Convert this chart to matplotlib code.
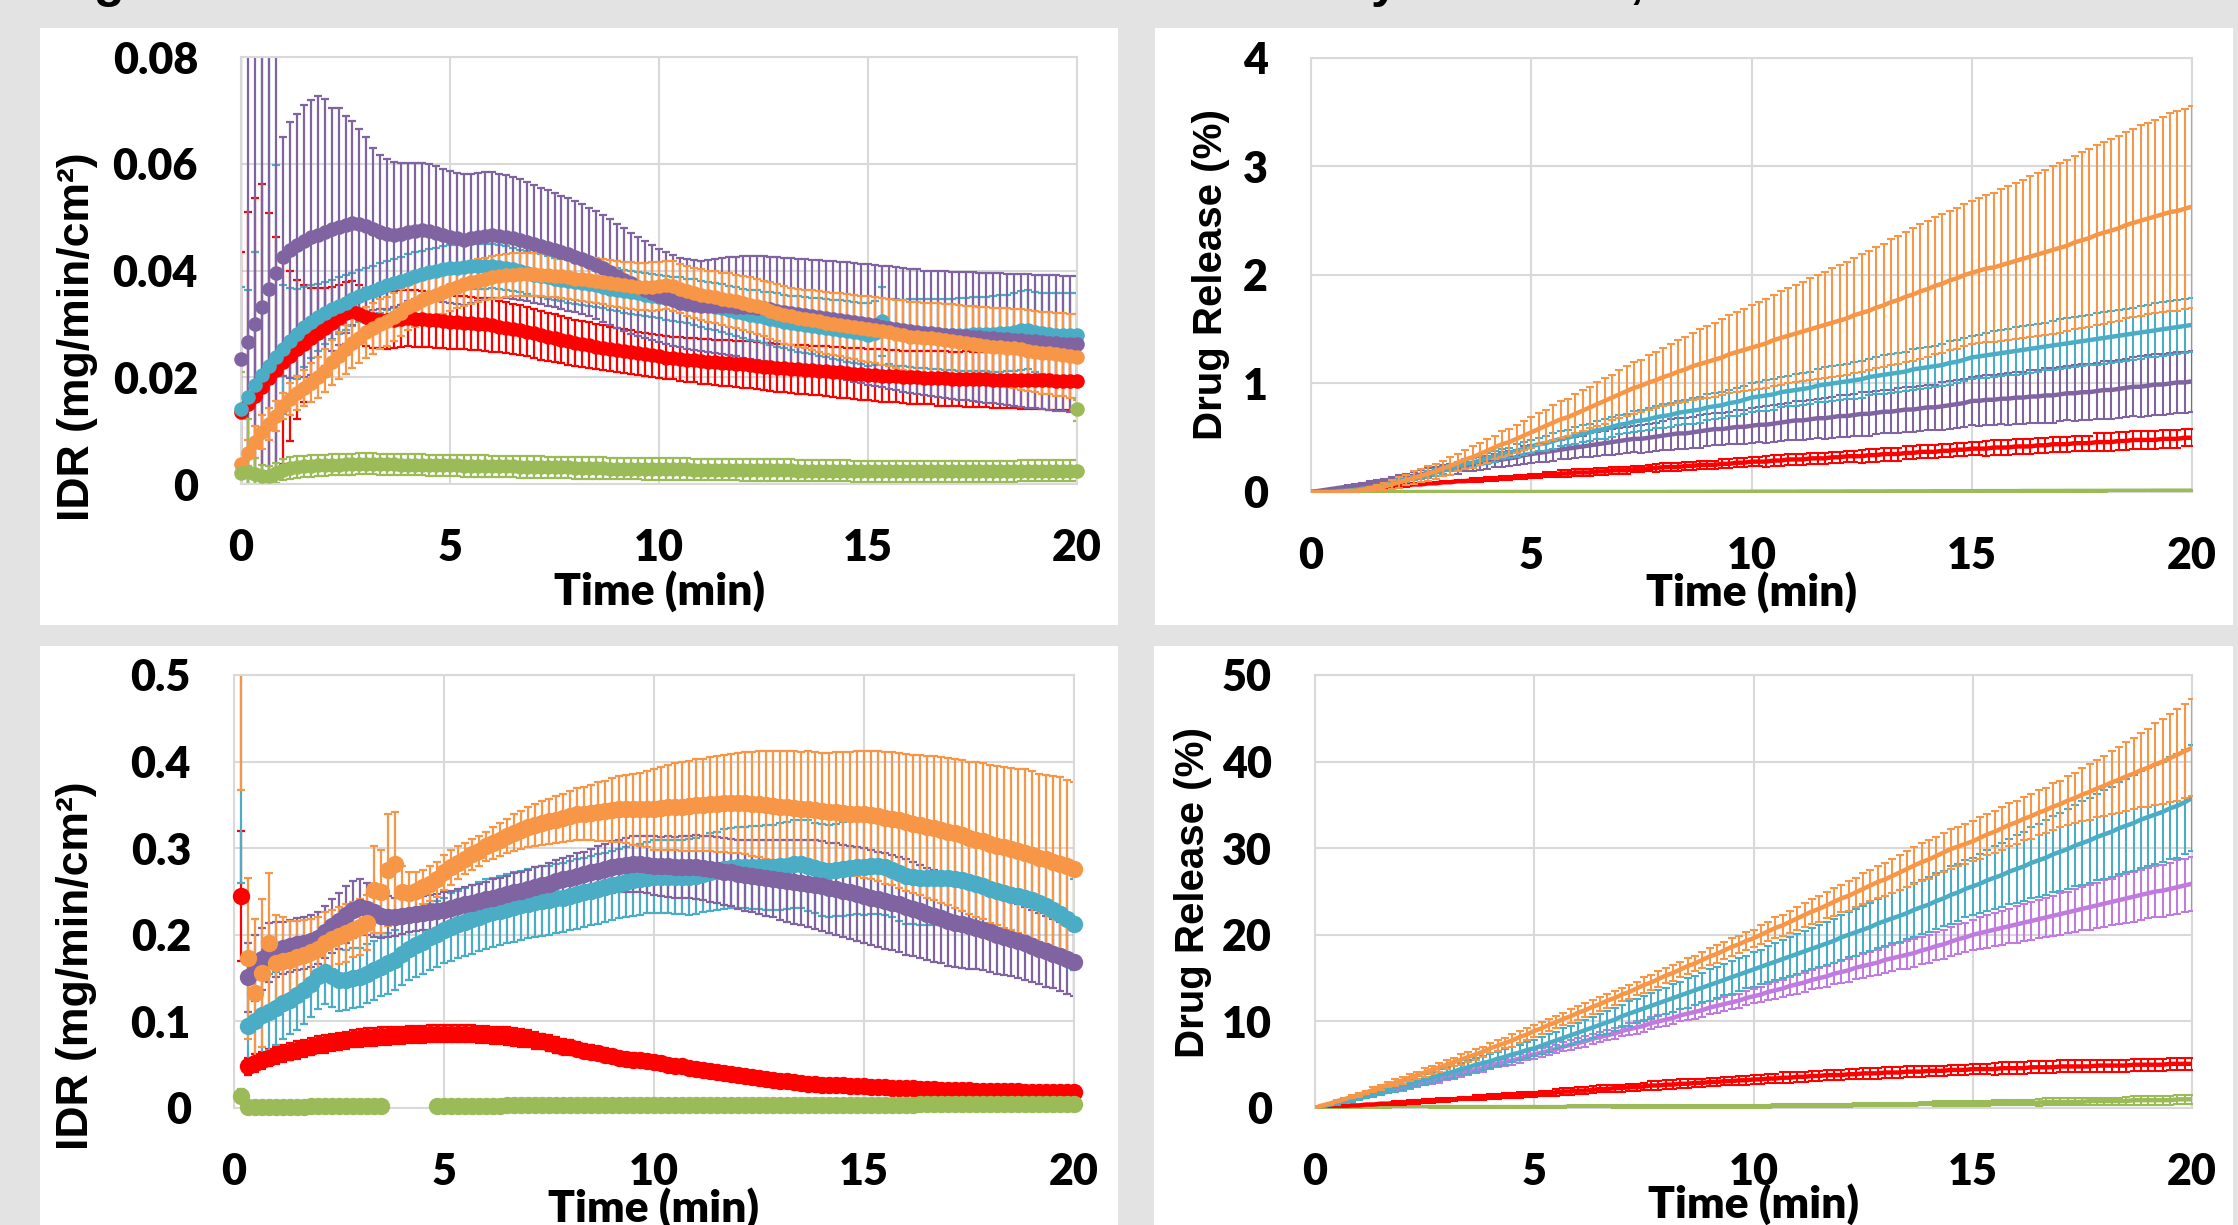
import numpy as np
import matplotlib
matplotlib.use("Agg")
import matplotlib.pyplot as plt
from matplotlib.patches import Rectangle
from matplotlib.transforms import Bbox, TransformedBbox

nan = float("nan")
W, H, DPI = 2238, 1225, 100

# ---------------- colours ----------------
C_RED, C_PURPLE, C_CYAN = "#FF0000", "#8064A2", "#4BACC6"
C_ORANGE, C_GREEN, C_LILAC = "#F79646", "#9BBB59", "#C07BE0"

# ---------------- axes text ----------------
x_ticks = [0, 5, 10, 15, 20]
x_tick_labels = ["0", "5", "10", "15", "20"]
tl_yticks = [0, 0.02, 0.04, 0.06, 0.08]
tl_ytick_labels = ["0", "0.02", "0.04", "0.06", "0.08"]
bl_yticks = [0, 0.1, 0.2, 0.3, 0.4, 0.5]
bl_ytick_labels = ["0", "0.1", "0.2", "0.3", "0.4", "0.5"]
tr_yticks = [0, 1, 2, 3, 4]
tr_ytick_labels = ["0", "1", "2", "3", "4"]
br_yticks = [0, 10, 20, 30, 40, 50]
br_ytick_labels = ["0", "10", "20", "30", "40", "50"]
xlabel_text = "Time (min)"
idr_label = "IDR (mg/min/cm²)"
dr_label = "Drug Release (%)"

# sampling every 10 s
time_full = np.arange(121) / 6.0      # 0 ... 20 min
time_bl = np.arange(1, 121) / 6.0     # 0.17 ... 20 min

# ================= TOP-LEFT: IDR, values in 1e-4 mg/min/cm2 =================
TL_UNIT = 1e-4
tl_red = [135,
 150,165,182,198,213,228, 240,252,263,273,283,293, 302,311,320,324,318,313,
 310,308,307,308,310,311, 310,309,308,307,305,304, 303,302,301,300,299,297,
 295,293,291,288,285,282, 279,276,273,270,267,264, 262,260,257,255,253,251,
 249,247,245,243,241,239, 237,236,234,233,232,230, 229,228,227,226,225,224,
 223,222,220,219,218,217, 216,215,214,213,212,211, 210,209,208,207,206,205,
 204,203,202,202,201,200, 200,199,199,198,198,197, 197,197,196,196,196,195,
 195,195,195,194,194,194, 194,194,193,193,193,193]
tl_red_sd = [300,
 360,370,380,310,250,190, 160,130,110,95,85,75, 68,62,58,56,55,55,
 55,54,54,54,53,53, 53,52,52,52,51,51, 50,50,50,49,49,49,
 48,48,47,47,46,46, 46,45,45,44,44,43, 43,43,42,42,42,41,
 41,41,40,40,40,40, 40,40,41,41,41,42, 42,42,43,43,43,44,
 44,44,44,45,45,45, 45,46,46,46,46,47, 47,47,47,48,48,48,
 48,49,49,49,49,50, 50,50,50,51,51,51, 51,52,52,52,52,53,
 53,53,53,54,54,54, 54,55,55,55,55,55]
tl_purple = [235,
 266,300,332,366,395,426, 438,448,456,462,467,472, 477,482,486,489,488,484,
 478,472,468,467,469,472, 474,475,474,470,466,463, 460,458,460,463,465,466,
 465,463,461,458,454,450, 446,442,438,434,430,426, 421,416,410,404,397,390,
 383,376,370,364,358,353, 348,344,340,337,335,333, 333,333,333,333,332,332,
 331,330,329,327,325,323, 321,319,317,315,313,311, 309,307,305,303,301,299,
 297,295,293,291,289,287, 285,283,282,281,280,279, 278,277,276,275,274,273,
 272,271,270,269,268,267, 266,265,264,263,262,262]
tl_purple_sd = [600,
 600,600,600,600,600,224, 240,246,255,258,259,250, 227,222,203,191,177,166,
 152,145,140,136,133,130, 128,126,125,125,125,124, 123,122,121,120,119,118,
 116,115,114,113,111,110, 109,108,107,106,105,104, 103,102,101,100,99,98,
 97,95,93,91,89,87, 86,85,84,84,84,84, 86,88,90,92,93,95,
 96,97,98,99,100,101, 102,103,104,105,106,107, 108,109,110,111,112,113,
 114,114,115,115,116,116, 117,117,118,118,119,119, 120,120,121,121,122,122,
 123,123,124,124,125,125, 126,126,127,127,128,128]
tl_cyan = [140,
 163,185,205,222,238,252, 267,281,295,304,312,320, 327,334,340,346,352,357,
 362,367,372,376,381,385, 389,393,397,399,402,404, 405,407,408,408,408,408,
 406,404,402,399,396,392, 390,387,384,382,380,378, 376,374,372,369,366,364,
 361,359,357,355,353,351, 349,347,345,343,341,338, 335,332,329,326,323,320,
 317,315,312,310,307,304, 302,300,298,296,294,292, 290,288,286,284,282,280,
 283,305,286,284,283,283, 282,282,281,281,280,280, 280,280,281,281,281,281,
 282,283,285,288,289,285, 282,281,280,280,279,279]
tl_cyan_sd = [230,
 200,250,650,600,360,120, 100,85,75,68,62,58, 55,53,51,50,49,48,
 47,47,46,46,45,45, 45,44,44,44,43,43, 43,42,42,42,42,41,
 41,41,41,40,40,40, 40,40,40,40,40,40, 40,40,40,40,40,40,
 40,40,40,40,40,40, 41,41,42,42,43,43, 44,44,45,45,46,46,
 47,48,48,49,50,50, 51,52,52,53,54,54, 55,56,57,57,58,59,
 60,65,61,62,62,63, 64,64,65,66,66,67, 68,68,69,70,70,71,
 72,72,73,74,74,75, 76,76,77,78,78,79]
tl_orange = [38,
 58,79,98,113,127,146, 160,170,180,190,200,212, 228,240,252,264,274,284,
 292,299,305,313,321,332, 338,344,350,355,360,365, 370,374,378,381,384,387,
 389,391,392,393,393,393, 392,391,390,389,387,385, 384,383,381,379,376,374,
 372,371,370,370,370,371, 372,371,366,362,358,355, 352,350,347,345,342,339,
 336,333,329,325,321,317, 314,311,309,307,305,302, 300,298,296,294,292,290,
 288,286,284,281,279,276, 275,274,273,271,269,268, 266,264,262,261,259,257,
 256,255,254,252,250,248, 246,245,243,242,240,238]
tl_orange_sd = [20,
 25,30,32,30,28,25, 30,32,34,36,38,40, 42,44,46,47,48,48,
 48,47,46,45,44,44, 43,42,42,41,41,40, 40,40,40,40,40,40,
 40,40,40,40,40,40, 40,40,40,41,41,41, 41,42,42,42,43,43,
 43,44,44,44,45,45, 45,46,46,47,47,48, 48,49,49,50,50,51,
 51,52,52,53,53,54, 54,55,55,56,57,58, 58,59,60,60,61,62,
 62,63,63,64,65,65, 66,66,67,68,68,69, 69,70,71,71,72,73,
 73,74,74,75,76,76, 77,77,78,78,79,80]
tl_green = [20,
 22,18,15,15,20,27, 30,32,33,34,35,35, 36,36,37,37,38,38,
 38,37,37,37,36,36, 36,36,35,35,35,35, 35,34,34,34,34,33,
 33,33,33,32,32,32, 32,31,31,31,31,30, 30,30,30,30,29,29,
 29,29,29,28,28,28, 28,28,28,28,27,27, 27,27,27,27,27,26,
 26,26,26,26,26,26, 26,25,25,25,25,25, 25,25,25,24,24,24,
 24,24,24,24,24,24, 24,24,24,24,24,24, 24,24,24,24,24,24,
 24,24,24,25,25,25, 25,25,25,25,25,25]
tl_green_sd = [190,
 100,30,20,19,19,19, 20,20,20,20,20,20, 20,20,20,20,20,20,
 20,20,20,20,20,20, 20,20,20,20,20,20, 20,20,20,20,20,20,
 20,20,20,20,20,20, 20,20,20,20,20,20, 20,20,20,20,20,20,
 20,20,20,20,20,20, 20,20,20,20,20,20, 20,20,20,20,20,20,
 20,20,20,20,20,20, 20,20,20,20,20,20, 20,20,20,20,20,20,
 20,20,20,20,20,20, 20,20,20,20,20,20, 20,20,20,20,20,20,
 20,20,20,20,20,20, 20,20,20,20,20,20]
tl_green_extra_t = [20.0]
tl_green_extra = [140]
tl_green_extra_sd = [22]

# ================= TOP-RIGHT: drug release, values in 0.01 % =================
TR_UNIT = 0.01
tr_orange = [0,
 0,0,0,0,1,1, 2,3,4,5,7,9, 11,13,15,17,19,22,
 24,27,30,32,35,38, 41,44,46,49,52,55, 58,61,64,67,69,72,
 75,78,81,84,87,90, 93,96,98,101,103,106, 108,111,113,116,118,120,
 122,124,127,129,131,133, 135,137,140,142,144,146, 148,150,152,154,156,158,
 160,163,165,167,170,172, 175,177,180,182,185,187, 190,192,195,197,200,202,
 204,206,207,209,211,213, 215,217,219,221,223,225, 227,230,232,234,237,239,
 241,243,246,248,250,252, 254,256,258,259,261,263]
tr_orange_sd = [0,
 0,0,0,0,1,1, 1,2,2,3,4,5, 5,6,6,7,7,7,
 8,8,9,10,10,11, 11,12,12,13,13,14, 15,15,16,17,17,18,
 19,19,20,21,21,22, 23,24,24,25,26,27, 28,29,30,31,32,33,
 34,35,36,37,38,39, 40,41,42,43,44,45, 46,47,48,49,50,51,
 52,53,54,55,56,57, 58,59,60,61,62,63, 63,64,64,65,65,66,
 67,68,69,70,71,72, 73,74,75,76,77,78, 79,80,81,82,83,84,
 84,85,86,87,88,88, 89,90,91,92,92,93]
tr_cyan = [0,
 0,0,0,1,1,2, 3,4,5,7,8,10, 11,13,14,16,18,20,
 22,24,26,27,29,31, 33,35,36,38,40,42, 44,45,47,49,50,52,
 54,55,57,58,60,62, 63,65,66,67,69,70, 71,73,74,75,76,78,
 79,80,82,83,85,87, 88,89,90,92,93,94, 95,96,98,99,100,101,
 102,103,104,106,107,108, 109,110,111,113,114,115, 116,117,119,120,122,124,
 125,126,127,128,129,130, 131,132,133,134,135,136, 137,138,139,140,141,142,
 143,144,145,146,147,148, 149,150,151,152,153,154]
tr_cyan_sd = [0,
 0,0,0,0,0,0, 0,1,1,1,1,2, 2,2,2,3,3,3,
 3,4,4,4,4,5, 5,5,5,6,6,6, 6,7,7,7,7,8,
 8,8,8,9,9,9, 9,10,10,10,10,11, 11,11,11,12,12,12,
 12,12,12,13,13,13, 13,14,14,14,14,15, 15,15,15,16,16,16,
 16,17,17,17,17,18, 18,18,18,19,19,19, 19,19,20,20,20,20,
 20,21,21,21,21,22, 22,22,22,22,23,23, 23,23,23,23,24,24,
 24,24,24,24,24,24, 25,25,25,25,25,25]
tr_purple = [0,
 1,2,3,4,5,6, 7,8,9,10,12,13, 14,15,16,18,19,20,
 21,22,24,25,26,27, 29,30,31,32,34,35, 36,37,38,39,40,41,
 42,43,44,45,46,47, 48,49,49,50,51,52, 53,54,54,55,56,57,
 58,58,59,60,60,61, 62,62,63,64,65,66, 66,67,68,68,69,70,
 70,71,72,72,73,74, 74,75,76,76,77,78, 78,79,80,81,82,84,
 84,85,85,86,86,87, 87,88,88,89,89,90, 91,91,92,92,93,94,
 94,95,96,97,97,98, 99,99,100,101,101,102]
tr_purple_sd = [0,
 0,0,1,1,1,1, 1,2,2,2,2,3, 3,3,4,4,4,5,
 5,5,5,6,6,6, 6,7,7,7,8,8, 8,9,9,9,10,10,
 10,11,11,11,12,12, 12,12,13,13,13,13, 14,14,14,14,15,15,
 15,15,15,16,16,16, 16,17,17,17,17,18, 18,18,18,19,19,19,
 19,19,20,20,20,20, 20,21,21,21,21,21, 21,22,22,22,22,22,
 23,23,23,23,24,24, 24,24,24,25,25,25, 25,26,26,26,26,27,
 27,27,27,27,28,28, 28,28,28,28,28,28]
tr_red = [0,
 0,1,1,2,2,3, 3,4,4,5,5,6, 6,7,7,8,8,9,
 9,10,10,11,11,12, 12,13,13,14,14,15, 15,16,16,17,17,18,
 18,18,19,19,20,20, 20,21,21,22,22,23, 23,23,24,24,25,25,
 25,26,26,27,27,28, 28,28,29,29,30,30, 30,31,31,31,32,32,
 33,33,33,34,34,35, 35,35,36,36,37,37, 37,38,38,39,39,40,
 40,40,41,41,41,42, 42,42,43,43,44,44, 44,45,45,45,46,46,
 46,47,47,48,48,48, 48,49,49,49,50,50]
tr_red_sd = [0,
 0,0,0,0,0,0, 0,0,1,1,1,1, 1,1,1,1,1,1,
 1,1,1,2,2,2, 2,2,2,2,2,2, 2,2,2,3,3,3,
 3,3,3,3,3,3, 3,3,3,3,4,4, 4,4,4,4,4,4,
 4,4,4,4,4,4, 4,5,5,5,5,5, 5,5,5,5,5,5,
 5,5,6,6,6,6, 6,6,6,6,6,6, 6,6,6,6,6,6,
 6,7,7,7,7,7, 7,7,7,7,7,7, 7,7,7,7,8,8,
 8,8,8,8,8,8, 8,8,8,8,8,8]
tr_green = [0,
 0,0,0,0,0,0, 0,0,0,0,0,0, 0,0,0,0,0,0,
 0,0,0,0,0,0, 0,0,0,0,0,0, 0,0,0,0,0,0,
 0,0,0,0,0,0, 0,0,0,0,0,0, 0.1,0.1,0.1,0.1,0.1,0.1,
 0.2,0.2,0.2,0.2,0.2,0.2, 0.3,0.3,0.3,0.3,0.3,0.3, 0.4,0.4,0.4,0.4,0.4,0.4,
 0.5,0.5,0.5,0.5,0.5,0.5, 0.6,0.6,0.6,0.6,0.6,0.6, 0.7,0.7,0.7,0.7,0.7,0.7,
 0.8,0.8,0.8,0.8,0.8,0.8, 0.9,0.9,0.9,0.9,0.9,0.9, 1.0,1.0,1.0,1.0,1.0,1.0,
 1.1,1.1,1.1,1.1,1.1,1.1, 1.2,1.2,1.2,1.2,1.2,1.2]
tr_green_sd = [0,
 0,0,0,0,0,0, 0,0,0,0,0,0, 0,0,0,0,0,0,
 0,0,0,0,0,0, 0,0,0,0,0,0, 0,0,0,0,0,0,
 0,0,0,0,0,0, 0,0,0,0,0,0, 0,0,0,0,0,0,
 0,0,0,0,0,0, 0.3,0.3,0.3,0.3,0.3,0.3, 0.3,0.3,0.3,0.3,0.3,0.3,
 0.4,0.4,0.4,0.4,0.4,0.4, 0.4,0.4,0.4,0.4,0.4,0.4, 0.5,0.5,0.5,0.5,0.5,0.5,
 0.5,0.5,0.5,0.5,0.5,0.5, 0.5,0.5,0.5,0.5,0.5,0.5, 0.6,0.6,0.6,0.6,0.6,0.6,
 0.6,0.6,0.6,0.6,0.6,0.6, 0.7,0.7,0.7,0.7,0.7,0.7]

# ================= BOTTOM-LEFT: IDR, values in 1e-3 mg/min/cm2 (t = 0.17 ... 20) =================
BL_UNIT = 1e-3
bl_red = [
 245,48,52,55,58,61, 63,65,67,69,71,73, 74,76,77,78,80,81,
 82,82,83,83,84,84, 85,85,85,86,86,86, 86,86,86,86,85,85,
 84,84,83,82,81,80, 78,77,75,73,71,70, 68,66,65,63,61,60,
 58,57,56,55,54,53, 52,50,49,48,46,45, 44,43,42,40,39,38,
 37,36,35,34,32,31, 31,30,29,28,28,27, 27,26,26,25,25,25,
 24,24,24,23,23,23, 23,22,22,22,21,21, 21,21,21,20,20,20,
 20,20,20,20,19,19, 19,19,19,19,19,19]
bl_red_sd = [
 75,10,10,10,10,10, 10,10,10,10,10,10, 10,10,10,10,10,10,
 10,10,10,10,10,10, 10,10,10,10,10,10, 10,10,10,10,10,10,
 10,10,10,10,10,10, 10,9,9,9,9,9, 8,8,8,8,8,7,
 7,7,7,7,6,6, 6,6,6,6,6,5, 5,5,5,5,5,5,
 5,5,4,4,4,4, 4,4,4,4,4,4, 4,4,4,4,4,4,
 4,4,3,3,3,3, 3,3,3,3,3,3, 3,3,3,3,3,3,
 3,3,3,3,3,3, 3,3,3,3,3,3]
bl_purple = [
 nan,151,162,172,180,183, 185,187,189,191,193,196, 203,210,216,223,229,232,
 230,226,222,221,221,222, 223,224,225,226,227,229, 231,233,235,237,239,241,
 243,245,247,249,251,253, 255,257,259,262,264,266, 268,270,272,274,276,278,
 280,281,282,282,281,280, 279,279,278,278,278,278, 277,276,275,273,272,270,
 269,268,267,266,265,263, 262,261,260,259,258,256, 254,253,251,249,247,245,
 243,241,239,237,235,232, 230,227,224,222,219,216, 214,212,210,208,206,203,
 200,198,195,193,190,187, 184,181,178,175,172,169]
bl_purple_sd = [
 nan,40,38,36,34,32, 30,30,30,30,30,30, 30,31,32,33,33,32,
 30,28,26,24,22,21, 20,20,20,20,20,20, 20,20,20,20,20,20,
 21,21,21,22,22,22, 23,23,24,24,25,25, 26,26,27,28,29,30,
 30,31,32,32,33,34, 34,35,35,36,36,37, 37,38,38,39,39,40,
 41,42,43,44,45,46, 47,48,49,50,51,52, 52,53,53,54,54,55,
 55,55,55,55,55,55, 54,54,53,53,52,52, 51,50,49,48,47,46,
 45,44,43,43,42,42, 41,41,40,40,40,40]
bl_cyan = [
 620,95,101,107,111,115, 121,125,130,136,143,152, 157,153,148,148,150,151,
 155,159,163,167,171,178, 184,188,192,197,201,205, 209,212,215,218,221,224,
 226,228,230,232,234,236, 238,239,240,242,243,245, 247,249,251,253,255,257,
 259,261,263,264,266,267, 267,267,267,267,267,268, 270,272,274,276,277,278,
 278,278,278,278,278,279, 280,282,282,280,277,275, 274,275,276,277,278,278,
 279,279,278,275,271,268, 267,266,266,266,266,266, 265,263,261,259,256,253,
 251,248,246,245,243,240, 237,233,229,224,218,212]
bl_cyan_sd = [
 360,50,48,46,44,42, 41,40,40,39,38,38, 37,36,36,35,35,34,
 34,34,34,35,35,36, 36,37,37,38,38,38, 39,39,39,40,40,40,
 40,40,40,40,40,40, 40,40,40,40,40,40, 40,40,40,40,40,40,
 40,40,41,41,41,42, 42,42,43,43,44,44, 44,45,45,46,46,47,
 47,48,48,49,49,50, 50,51,51,52,52,53, 53,53,54,54,54,55,
 55,55,55,55,55,55, 55,55,55,55,55,55, 55,55,55,55,55,55,
 55,55,54,54,54,54, 54,54,54,54,53,53]
bl_orange = [
 620,173,133,156,190,167, 170,171,174,177,180,184, 191,195,199,202,206,209,
 214,252,250,275,282,250, 248,251,255,259,264,272, 278,283,288,293,297,302,
 306,310,314,318,321,324, 327,329,331,333,335,337, 339,340,341,342,343,344,
 345,345,345,345,345,345, 346,347,348,348,349,350, 350,351,351,352,352,352,
 352,351,351,350,349,348, 347,346,345,345,344,343, 342,342,341,340,340,339,
 338,337,335,334,332,330, 328,327,325,323,321,319, 317,315,312,310,308,305,
 303,301,299,297,295,292, 289,287,284,282,279,276]
bl_orange_sd = [
 253,93,85,85,81,56, 50,45,42,40,38,36, 35,34,33,33,32,32,
 32,50,48,65,60,30, 25,22,20,20,20,20, 20,19,18,18,17,17,
 18,19,20,21,22,23, 24,25,26,27,28,29, 30,31,32,34,35,37,
 38,39,41,42,44,47, 48,49,50,51,52,53, 53,54,55,56,57,58,
 59,60,61,62,63,64, 65,66,66,67,67,67, 68,69,70,71,72,73,
 74,75,76,77,78,79, 80,81,82,83,84,85, 86,87,88,89,90,91,
 92,93,94,95,96,97, 97,98,99,100,100,101]
bl_green = [
 14,1,1,1,1,1, 1,1,1,1,2,2, 2,2,2,2,2,2,
 2,2,2,nan,nan,nan, nan,nan,nan,nan,2,2, 2,2,2,2,2,2,
 2,2,3,3,3,3, 3,3,3,3,3,3, 3,3,3,3,3,3,
 3,3,3,3,3,3, 4,4,4,4,4,4, 4,4,4,4,4,4,
 4,4,4,4,4,4, 4,4,4,4,4,4, 4,4,4,4,4,4,
 4,4,4,4,4,4, 4,5,5,5,5,5, 5,5,5,5,5,5,
 5,5,5,5,5,5, 5,5,5,5,5,5]
bl_green_sd = [
 8,3,3,3,3,3, 2,2,2,2,2,2, 2,2,2,2,2,2,
 2,2,2,nan,nan,nan, nan,nan,nan,nan,2,2, 2,2,2,2,2,2,
 2,2,2,2,2,2, 2,2,2,2,2,2, 2,2,2,2,2,2,
 2,2,2,2,2,2, 2,2,2,2,2,2, 2,2,2,2,2,2,
 2,2,2,2,2,2, 2,2,2,2,2,2, 2,2,2,2,2,2,
 2,2,2,2,2,2, 2,2,2,2,2,2, 2,2,2,2,2,2,
 2,2,2,2,2,2, 2,2,2,2,2,2]

# ================= BOTTOM-RIGHT: drug release, values in 0.1 % =================
BR_UNIT = 0.1
br_orange = [0,
 3,5,8,10,13,15, 18,21,24,27,29,32, 35,38,41,44,47,50,
 53,56,59,62,65,69, 72,75,78,82,85,89, 92,96,99,103,106,110,
 113,117,120,124,127,131, 134,138,142,145,149,153, 156,160,164,167,171,175,
 178,182,186,189,193,196, 200,204,208,211,215,219, 223,227,230,234,238,242,
 245,249,253,257,261,264, 268,272,276,280,284,287, 291,295,299,302,305,308,
 312,316,319,323,327,330, 334,337,341,344,348,351, 355,358,362,365,369,372,
 376,379,383,386,390,393, 397,400,404,408,412,416]
br_orange_sd = [0,
 0,1,1,1,2,2, 2,3,3,3,4,4, 4,4,5,5,5,5,
 5,6,6,6,6,6, 6,6,7,7,7,7, 7,7,7,7,8,8,
 8,8,8,8,8,8, 8,8,9,9,9,9, 9,9,9,9,9,10,
 10,10,10,10,10,10, 11,11,12,12,13,13, 14,14,15,15,16,16,
 17,17,18,18,19,19, 20,20,21,21,22,22, 22,22,23,23,23,23,
 24,24,24,25,25,25, 25,26,26,26,27,27, 28,29,31,32,33,35,
 36,38,40,41,43,45, 47,49,51,53,54,56]
br_cyan = [0,
 2,4,6,8,10,12, 14,17,19,21,24,26, 28,31,33,35,38,40,
 42,45,47,50,52,54, 57,59,62,64,67,69, 72,75,78,81,84,87,
 90,93,96,99,102,106, 109,112,115,118,121,124, 127,130,133,136,139,142,
 145,148,151,154,157,160, 163,166,169,172,175,178, 181,184,187,190,193,197,
 200,203,206,209,213,216, 219,222,225,229,232,235, 239,242,246,249,253,256,
 259,263,266,269,273,276, 279,283,286,289,293,296, 299,303,306,309,313,316,
 319,323,326,329,333,336, 339,342,346,349,353,358]
br_cyan_sd = [0,
 1,1,2,2,3,3, 3,4,4,4,5,5, 5,6,6,6,7,7,
 7,7,8,8,8,8, 8,9,9,9,9,9, 10,10,10,11,11,11,
 12,12,12,13,13,13, 14,14,14,15,15,15, 16,16,17,17,17,18,
 18,18,19,19,19,20, 20,21,21,22,22,23, 23,24,24,25,25,26,
 26,27,27,28,28,29, 29,30,30,31,31,32, 32,32,33,33,33,33,
 34,35,36,37,38,39, 40,41,42,43,44,45, 46,47,48,49,50,51,
 52,53,54,55,56,57, 57,58,59,60,60,61]
br_lilac = [0,
 2,4,6,8,10,11, 13,15,17,19,21,23, 25,27,29,31,33,36,
 38,40,42,44,46,49, 51,53,55,57,60,62, 64,66,68,71,73,75,
 77,80,82,84,86,89, 91,93,95,98,100,102, 104,107,109,111,113,116,
 118,120,122,124,127,129, 131,134,136,138,141,143, 145,148,150,152,155,157,
 159,162,164,166,168,171, 173,175,177,179,182,184, 187,189,192,195,197,200,
 202,204,206,208,210,212, 214,216,218,220,222,224, 226,228,230,232,234,236,
 238,240,242,244,246,248, 250,251,253,255,257,259]
br_lilac_sd = [0,
 0,1,1,1,1,2, 2,2,2,2,3,3, 3,3,3,3,4,4,
 4,4,4,4,4,4, 4,4,5,5,5,5, 5,5,5,5,6,6,
 6,6,6,6,6,6, 7,7,7,7,7,7, 7,7,7,8,8,8,
 8,8,8,8,8,8, 9,9,10,10,10,11, 11,11,12,12,12,13,
 13,13,14,14,14,15, 15,15,16,16,16,16, 16,17,17,17,17,17,
 18,19,19,20,20,21, 21,22,22,23,23,24, 24,25,25,26,26,27,
 27,28,28,29,29,29, 30,30,30,31,31,31]
br_red = [0,
 1,1,2,2,3,3, 4,4,5,5,6,6, 7,7,8,8,9,9,
 10,11,11,12,12,13, 13,14,14,15,16,16, 17,17,18,19,19,20,
 20,21,22,22,23,23, 24,24,25,26,26,27, 27,28,28,29,29,30,
 30,31,31,32,32,33, 33,34,34,35,35,36, 36,37,37,38,38,38,
 39,39,40,40,40,41, 41,41,42,42,42,43, 43,43,44,44,44,45,
 45,45,45,46,46,46, 46,47,47,47,47,48, 48,48,48,48,49,49,
 49,49,49,50,50,50, 50,50,51,51,51,51]
br_red_sd = [0,
 0,0,1,1,1,1, 1,1,1,1,2,2, 2,2,2,2,2,2,
 2,2,2,3,3,3, 3,3,3,3,3,3, 3,3,4,4,4,4,
 4,4,4,4,4,4, 4,4,4,5,5,5, 5,5,5,5,5,5,
 5,5,5,5,5,5, 5,5,5,6,6,6, 6,6,6,6,6,6,
 6,6,6,6,6,6, 6,6,6,6,6,6, 6,6,6,6,6,6,
 6,6,7,7,7,7, 7,7,7,7,7,7, 7,7,7,7,7,7,
 7,7,7,7,7,7, 7,7,7,7,7,7]
br_green = [0,
 0,0,0,0,0,0, 0,0,0,0,1,1, 1,1,1,1,1,1,
 1,1,1,1,1,1, 1,1,1,1,1,1, 1,1,1,1,2,2,
 2,2,2,2,2,2, 2,2,2,2,2,2, 2,2,2,2,2,2,
 2,2,2,2,2,2, 2,2,3,3,3,3, 3,3,3,3,3,3,
 3,4,4,4,4,4, 4,4,4,4,5,5, 5,5,5,5,5,5,
 5,5,6,6,6,6, 6,6,6,7,7,7, 7,7,7,8,8,8,
 8,8,8,9,9,9, 9,9,9,10,10,10]
br_green_sd = [0,
 0,0,0,0,0,0, 0,0,0,0,0,0, 0,0,0,1,1,1,
 1,1,1,1,1,1, 1,1,1,1,1,1, 1,1,1,1,1,1,
 1,1,1,1,2,2, 2,2,2,2,2,2, 2,2,2,2,2,2,
 2,2,2,2,2,2, 2,2,2,2,2,2, 2,2,2,2,2,2,
 2,2,2,2,2,2, 2,2,2,2,2,2, 3,3,3,3,3,3,
 3,3,3,3,3,3, 3,3,4,4,4,4, 4,4,4,4,4,4,
 4,4,5,5,5,5, 5,5,5,5,5,5]

# =====================================================================
plt.rcParams["font.family"] = ["Lato", "DejaVu Sans"]
fig = plt.figure(figsize=(W / DPI, H / DPI), dpi=DPI)
fig.patch.set_facecolor("#e3e3e3")

TICK_WEIGHT = 800
TICK_SIZE = 31


def fx(x):
    return x / W


def fy(y):
    return 1 - y / H


# white panels of the slide (behind the axes)
for (x0, y0, x1, y1) in [(40, 28, 1118, 625), (1155, 28, 2233, 625),
                         (40, 646, 1118, 1225), (1154, 646, 2233, 1225)]:
    fig.patches.append(Rectangle((fx(x0), fy(y1)), (x1 - x0) / W, (y1 - y0) / H,
                                 transform=fig.transFigure, facecolor="white",
                                 edgecolor="none", zorder=-10))


def make_axes(x0, y0, x1, y1, ylim, yticks, ylabels):
    ax = fig.add_axes([fx(x0), fy(y1), (x1 - x0) / W, (y1 - y0) / H])
    ax.set_zorder(1)
    ax.set_facecolor("white")
    ax.set_xlim(0, 20)
    ax.set_ylim(*ylim)
    ax.set_xticks(x_ticks)
    ax.set_xticklabels(x_tick_labels)
    ax.set_yticks(yticks)
    ax.set_yticklabels(ylabels)
    ax.grid(True, color="#d9d9d9", lw=1.5)
    ax.set_axisbelow(True)
    for s in ax.spines.values():
        s.set_color("#d9d9d9")
        s.set_linewidth(1.5)
    ax.tick_params(axis="both", length=0)
    ax.tick_params(axis="y", pad=31)
    ax.tick_params(axis="x", pad=32)
    for lab in ax.get_xticklabels() + ax.get_yticklabels():
        lab.set_fontfamily("Lato")
        lab.set_fontweight(TICK_WEIGHT)
        lab.set_fontsize(TICK_SIZE)
        lab.set_color("black")
    return ax


def idr_series(ax, t, mean, sd, unit, color, ms, z):
    y = np.array(mean, dtype=float) * unit
    e = np.array(sd, dtype=float) * unit
    ax.errorbar(t, y, yerr=e, fmt="none", ecolor=color, elinewidth=1.6,
                capsize=2.6, capthick=1.6, zorder=2)
    ln, = ax.plot(t, y, "o", ms=ms, color=color, mec=color, mew=0, zorder=z)
    ln.set_clip_box(TransformedBbox(Bbox([[-0.03, -0.06], [1.03, 1.0]]), ax.transAxes))


def dr_series(ax, t, mean, sd, unit, color, z):
    y = np.array(mean, dtype=float) * unit
    e = np.array(sd, dtype=float) * unit
    ax.errorbar(t, y, yerr=e, fmt="-", color=color, lw=3.2, ecolor=color,
                elinewidth=1.5, capsize=2.6, capthick=1.5, zorder=z)


# ---------- top-left ----------
ax_tl = make_axes(241, 57, 1077, 484, (0, 0.08), tl_yticks, tl_ytick_labels)
idr_series(ax_tl, time_full, tl_red, tl_red_sd, TL_UNIT, C_RED, 10.5, 3)
idr_series(ax_tl, time_full, tl_cyan, tl_cyan_sd, TL_UNIT, C_CYAN, 10.5, 4)
idr_series(ax_tl, time_full, tl_purple, tl_purple_sd, TL_UNIT, C_PURPLE, 10.5, 5)
idr_series(ax_tl, time_full, tl_orange, tl_orange_sd, TL_UNIT, C_ORANGE, 10.5, 6)
idr_series(ax_tl, time_full, tl_green, tl_green_sd, TL_UNIT, C_GREEN, 10.5, 7)
idr_series(ax_tl, tl_green_extra_t, tl_green_extra, tl_green_extra_sd, TL_UNIT, C_GREEN, 10.5, 7)

# ---------- top-right ----------
ax_tr = make_axes(1311, 58, 2192, 492, (0, 4), tr_yticks, tr_ytick_labels)
dr_series(ax_tr, time_full, tr_green, tr_green_sd, TR_UNIT, C_GREEN, 3)
dr_series(ax_tr, time_full, tr_red, tr_red_sd, TR_UNIT, C_RED, 4)
dr_series(ax_tr, time_full, tr_purple, tr_purple_sd, TR_UNIT, C_PURPLE, 5)
dr_series(ax_tr, time_full, tr_cyan, tr_cyan_sd, TR_UNIT, C_CYAN, 6)
dr_series(ax_tr, time_full, tr_orange, tr_orange_sd, TR_UNIT, C_ORANGE, 7)

# ---------- bottom-left ----------
ax_bl = make_axes(234, 675, 1074, 1108, (0, 0.5), bl_yticks, bl_ytick_labels)
idr_series(ax_bl, time_bl, bl_red, bl_red_sd, BL_UNIT, C_RED, 12.5, 3)
idr_series(ax_bl, time_bl, bl_cyan, bl_cyan_sd, BL_UNIT, C_CYAN, 12.5, 4)
idr_series(ax_bl, time_bl, bl_purple, bl_purple_sd, BL_UNIT, C_PURPLE, 12.5, 5)
idr_series(ax_bl, time_bl, bl_orange, bl_orange_sd, BL_UNIT, C_ORANGE, 12.5, 6)
idr_series(ax_bl, time_bl, bl_green, bl_green_sd, BL_UNIT, C_GREEN, 12.5, 7)

# ---------- bottom-right ----------
ax_br = make_axes(1315, 675, 2192, 1108, (0, 50), br_yticks, br_ytick_labels)
dr_series(ax_br, time_full, br_green, br_green_sd, BR_UNIT, C_GREEN, 3)
dr_series(ax_br, time_full, br_red, br_red_sd, BR_UNIT, C_RED, 4)
dr_series(ax_br, time_full, br_lilac, br_lilac_sd, BR_UNIT, C_LILAC, 5)
dr_series(ax_br, time_full, br_cyan, br_cyan_sd, BR_UNIT, C_CYAN, 6)
dr_series(ax_br, time_full, br_orange, br_orange_sd, BR_UNIT, C_ORANGE, 7)

# ---------- axis titles ----------
for (x, y) in [(659, 591), (1751, 592), (654, 1208), (1753, 1204)]:
    fig.text(fx(x), fy(y), xlabel_text, ha="center", va="center",
             fontfamily="Lato", fontweight=TICK_WEIGHT, fontsize=32, zorder=5)
fig.text(fx(78), fy(337), idr_label, rotation=90, ha="center", va="center",
         fontfamily="Liberation Sans", fontweight="bold", fontsize=32, zorder=5)
fig.text(fx(77), fy(966), idr_label, rotation=90, ha="center", va="center",
         fontfamily="Liberation Sans", fontweight="bold", fontsize=32, zorder=5)
fig.text(fx(1211), fy(274), dr_label, rotation=90, ha="center", va="center",
         fontfamily="Liberation Sans", fontweight="bold", fontsize=29, zorder=5)
fig.text(fx(1193), fy(892), dr_label, rotation=90, ha="center", va="center",
         fontfamily="Liberation Sans", fontweight="bold", fontsize=29, zorder=5)

# ---------- cut-off slide title (only descenders visible, as in the slide) ----------
for (x, ch) in [(109, "g"), (1384, "y"), (1637, ",")]:
    fig.text(fx(x), fy(-3), ch, ha="center", va="baseline",
             fontfamily="Liberation Sans", fontweight="bold", fontsize=36)

fig.savefig("out.png", dpi=DPI, facecolor=fig.get_facecolor())
